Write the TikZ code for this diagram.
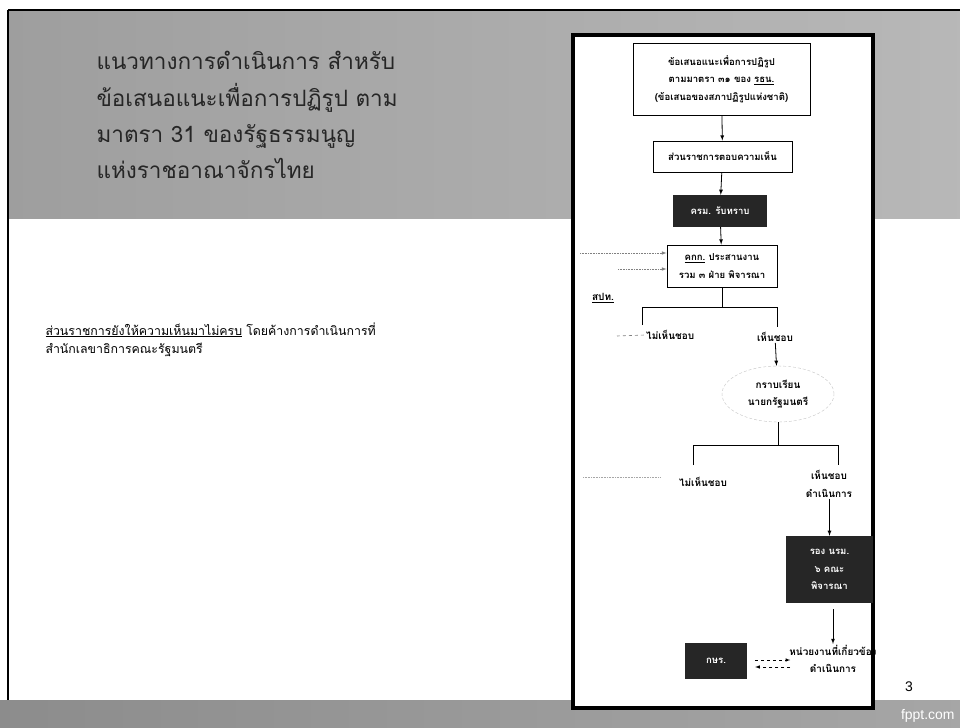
\documentclass[tikz,border=0pt]{standalone}
\usepackage{fontspec}
\newfontfamily\thaifont[Script=Thai]{Loma}
\setsansfont{Liberation Sans}
\usetikzlibrary{shapes.geometric}

\tikzset{
    box/.style={draw, line width=0.9bp, fill=white, align=center,
        font=\thaifont\bfseries\fontsize{9.6}{17.5}\selectfont, inner sep=2bp},
    darkbox/.style={fill=black!85, text=white, align=center,
        font=\thaifont\bfseries\fontsize{9.6}{17.5}\selectfont, inner sep=2bp},
    lbl/.style={align=center, font=\thaifont\bfseries\fontsize{10}{17.5}\selectfont, inner sep=1bp},
    flow/.style={-latex, line width=0.8bp},
    faint/.style={-latex, gray, densely dotted, line width=0.6bp},
}

\begin{document}
\begin{tikzpicture}[x=1bp, y=-1bp]
    \useasboundingbox (0,0) rectangle (960,728);
    \clip (0,0) rectangle (960,728);

    % Draw the slide background
    \fill[white] (0,0) rectangle (960,728);
    \shade[left color=black!38, middle color=black!48, right color=black!28] (8,10) rectangle (960,218);
    \shade[left color=black!45, right color=black!35] (0,700) rectangle (960,728);
    \draw[line width=1.2bp] (8,10) -- (960,10);
    \draw[line width=1.2bp] (8,10) -- (8,700);

    % Title and body text
    \node[anchor=north west, align=left, text=black!85,
        font=\thaifont\fontsize{22.6}{36.5}\selectfont] (title) at (93,48)
        {แนวทางการดำเนินการ สำหรับ\\ข้อเสนอแนะเพื่อการปฏิรูป ตาม\\มาตรา 31 ของรัฐธรรมนูญ\\แห่งราชอาณาจักรไทย};
    \node[anchor=north west, align=left,
        font=\thaifont\fontsize{12.4}{18}\selectfont] (note) at (42,319)
        {\underline{ส่วนราชการยังให้ความเห็นมาไม่ครบ} โดยค้างการดำเนินการที่\\สำนักเลขาธิการคณะรัฐมนตรี};

    % Draw the frame of the flow chart
    \draw[line width=4bp, fill=white] (573,35) rectangle (873,708);

    % Boxes
    \node[box, minimum width=177bp, minimum height=72bp] (proposal) at (721.5,79)
        {ข้อเสนอแนะเพื่อการปฏิรูป\\ตามมาตรา ๓๑ ของ \underline{รธน.}\\(ข้อเสนอของสภาปฏิรูปแห่งชาติ)};
    \node[box, minimum width=139bp, minimum height=31bp] (reply) at (722.5,156.5) {ส่วนราชการตอบความเห็น};
    \node[darkbox, minimum width=94bp, minimum height=32bp] (cabinet) at (720,211) {ครม. รับทราบ};
    \node[box, minimum width=110bp, minimum height=42bp] (committee) at (722,266)
        {\underline{คกก.} ประสานงาน\\รวม ๓ ฝ่าย พิจารณา};
    \node[lbl] (spt) at (603,298) {\underline{สปท.}};

    \draw[flow] (proposal) -- (reply);
    \draw[flow] (reply) -- (cabinet);
    \draw[flow] (cabinet) -- (committee);

    % Inputs from the left
    \coordinate (inA) at (580,253);
    \coordinate (inB) at (618,269);
    \draw[faint] (inA) -- (inA -| committee.west);
    \draw[faint] (inB) -- (inB -| committee.west);

    % First branch
    \node[lbl, anchor=west] (no1) at (645,335) {ไม่เห็นชอบ};
    \node[lbl] (yes1) at (775,337) {เห็นชอบ};
    \coordinate (split1) at (722,307);
    \draw[line width=0.8bp] (committee.south) -- (split1);
    \draw[line width=0.8bp] (642,325) -- (642,307) -- (777,307) -- (777,327);
    \coordinate (dashA) at (617,336);
    \draw[gray, dashed, line width=0.6bp] (dashA) -- (no1.west);

    % Report to the prime minister
    \node[lbl, ellipse, draw=gray!45, densely dashed, minimum width=112bp, minimum height=56bp] (pm) at (778,394)
        {กราบเรียน\\นายกรัฐมนตรี};
    \draw[flow] (yes1) -- (pm);

    % Second branch
    \node[lbl] (no2) at (703,482) {ไม่เห็นชอบ};
    \node[lbl] (yes2) at (829,484) {เห็นชอบ\\ดำเนินการ};
    \coordinate (split2) at (778,445);
    \draw[line width=0.8bp] (pm.south) -- (split2);
    \draw[line width=0.8bp] (693,465) -- (693,445) -- (838,445) -- (838,465);
    \coordinate (dashB) at (583,477);
    \draw[gray!70, densely dotted, line width=0.6bp] (dashB) -- (660,477);

    % Deputy prime ministers
    \node[darkbox, minimum width=87bp, minimum height=67bp] (deputy) at (829.5,569.5)
        {รอง นรม.\\๖ คณะ\\พิจารณา};
    \draw[flow] (yes2.south -| deputy) -- (deputy);

    % Agencies and the office
    \node[lbl] (agency) at (833,659) {หน่วยงานที่เกี่ยวข้อง\\ดำเนินการ};
    \node[darkbox, minimum width=62bp, minimum height=36bp] (office) at (716,661) {กษร.};
    \draw[flow] (deputy.south -| agency) ++(0,6) -- (agency.north);
    \draw[-latex, dashed, line width=0.6bp] (office.east |- 0,660) ++(8,0) -- ++(35,0);
    \draw[-latex, dashed, line width=0.6bp] (office.east |- 0,667) ++(43,0) -- ++(-35,0);

    % Page number and footer
    \node[font=\sffamily\fontsize{14}{16}\selectfont] (page) at (909,687) {3};
    \node[anchor=east, text=white, font=\sffamily\fontsize{14}{16}\selectfont] (footer) at (958,716) {fppt.com};
\end{tikzpicture}
\end{document}
